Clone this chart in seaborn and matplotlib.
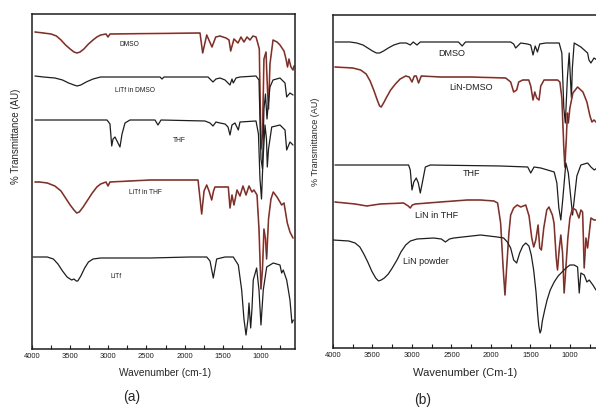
import numpy as np
import matplotlib
matplotlib.use("Agg")
import matplotlib.pyplot as plt
import seaborn as sns
from matplotlib.ticker import MultipleLocator

# ---- panel (a): LiTf spectra (wavenumber, transmittance AU) ----
a_dmso_wn = [3961, 3850, 3750, 3680, 3620, 3560, 3500, 3450, 3410, 3370, 3320, 3260, 3200, 3150, 3100,
             3030, 3004, 2978, 1798, 1763, 1710, 1641,
             1592, 1536, 1457, 1418, 1396, 1353, 1300, 1261, 1222, 1182, 1143, 1104, 1064, 1038, 1021,
             999, 979, 960, 933, 914, 900, 881, 841, 789, 750, 697, 671, 651, 632, 606, 579, 566]
a_dmso_t = [317, 316, 315, 313, 309, 304, 300, 297, 296, 297, 300, 305, 309, 312, 314,
            315, 312, 315, 316, 296, 314, 302,
            312, 313, 311, 309, 298, 310, 306, 312, 307, 312, 309, 313, 312, 305, 300,
            200, 215, 290, 297, 260, 240, 285, 309, 307, 304, 298, 290, 282, 290, 282, 279, 283]

a_litf_dmso_wn = [3961, 3850, 3700, 3600, 3520, 3450, 3410, 3360, 3290, 3200, 3100, 2978, 2322, 2296,
                  2270, 1693, 1628, 1589, 1536,
                  1470, 1405, 1379, 1362, 1326, 1274, 1064, 1025, 999, 979, 960, 940, 920, 907, 881,
                  841, 750, 684, 662, 619, 579]
a_litf_dmso_t = [273, 272, 271, 269, 266, 264, 263, 264, 267, 270, 272, 272, 272, 270,
                 272, 272, 267, 270, 271,
                 269, 264, 270, 266, 271, 272, 273, 269, 190, 180, 240, 255, 230, 242, 262,
                 269, 271, 266, 252, 256, 254]

a_thf_wn = [3961, 3017, 2978, 2955, 2938, 2912, 2886, 2847, 2820, 2781, 2716, 2388, 2349, 2309, 1733,
            1667, 1628, 1589, 1536, 1470, 1431, 1405, 1379, 1340, 1296, 1274, 1064, 1032, 1012, 992,
            972, 946, 927, 916, 900, 858, 750, 684, 662, 619, 579]
a_thf_t = [229, 229, 225, 203, 210, 212, 208, 202, 215, 226, 229, 229, 224, 229, 228,
           226, 223, 227, 226, 225, 222, 214, 224, 226, 219, 227, 228, 215, 170, 150,
           190, 224, 210, 182, 200, 222, 224, 219, 199, 207, 204]

a_litf_thf_wn = [3961, 3900, 3800, 3700, 3620, 3560, 3500, 3450, 3414, 3380, 3330, 3270, 3210, 3150,
                 3100, 3030, 3004, 2978, 2453, 1824,
                 1776, 1745, 1710, 1680, 1645, 1621, 1602, 1536, 1427, 1405, 1379, 1353, 1313, 1274,
                 1235, 1195, 1156, 1117, 1091, 1051, 1025, 999, 979, 960, 940, 925, 900, 868, 838,
                 789, 750, 728, 697, 654, 619, 579]
a_litf_thf_t = [167, 167, 166, 163, 158, 151, 144, 139, 136, 137, 142, 149, 156, 162,
                165, 167, 163, 167, 169, 169,
                135, 158, 164, 158, 149, 158, 162, 162, 162, 141, 154, 144, 159, 153,
                163, 154, 163, 157, 159, 154, 120, 60, 80, 120, 110, 90, 130, 150, 157,
                152, 147, 144, 146, 126, 117, 111]

a_litf_wn = [3987, 3800, 3720, 3660, 3600, 3540, 3480, 3450, 3420, 3400, 3360, 3310, 3260, 3200, 3100,
             2978, 2453, 1929, 1710, 1667,
             1624, 1580, 1470, 1362, 1296, 1252, 1222, 1195, 1169, 1156, 1134, 1117, 1100, 1056, 1025,
             999, 969, 924, 838, 750, 728, 707, 662, 619, 593, 575]
a_litf_t = [92, 92, 90, 85, 78, 72, 69, 70, 68, 68, 73, 81, 87, 90, 91,
            91, 91, 92, 92, 88,
            71, 90, 92, 92, 84, 59, 30, 14, 30, 46, 21, 40, 69, 81, 59,
            24, 59, 82, 86, 84, 76, 79, 69, 49, 26, 29]

# ---- panel (b): LiN spectra ----
b_dmso_wn = [3975, 3784, 3700, 3620, 3560, 3500, 3450, 3410, 3360, 3300, 3230, 3150, 3072, 3022, 2984,
             2937, 2895, 2412,
             2365, 2323, 1751, 1713, 1688, 1662, 1624, 1539, 1497, 1468, 1440, 1412, 1383, 1306, 1137,
             1103, 1078, 1059, 1033, 1010, 995, 982, 970, 947, 862, 777, 760, 735, 696, 658]
b_dmso_t = [306, 306, 305, 303, 300, 297, 295, 295, 297, 300, 303, 305, 305, 303, 306,
            303, 306, 306,
            302, 306, 306, 304, 300, 302, 305, 304, 303, 293, 302, 296, 304, 305, 305,
            295, 240, 225, 270, 295, 270, 250, 280, 305, 301, 295, 288, 285, 290, 288]

b_lin_dmso_wn = [3975, 3750, 3650, 3580, 3530, 3480, 3440, 3410, 3390, 3360, 3320, 3270, 3210, 3150,
                 3080, 3034, 3000, 2971,
                 2946, 2917, 2882, 2640, 2259, 1814, 1751, 1713, 1675, 1649, 1598, 1522, 1497, 1468,
                 1446, 1421, 1392, 1370, 1328, 1157, 1128, 1103, 1078, 1065, 1046, 1033, 1021, 1001,
                 963, 904, 836, 786, 747, 722, 696, 658]
b_lin_dmso_t = [281, 280, 278, 274, 267, 257, 248, 242, 241, 245, 251, 258, 264, 269,
                272, 271, 266, 272,
                272, 265, 272, 271, 271, 270, 266, 256, 258, 266, 268, 268, 262, 248,
                256, 250, 248, 262, 268, 268, 266, 250, 200, 181, 210, 235, 225, 240,
                255, 261, 256, 246, 232, 226, 228, 225]

b_thf_wn = [3975, 3403, 3043, 3022, 3000, 2977, 2946, 2920, 2895, 2870, 2831, 2768, 1878, 1535, 1497,
            1455, 1370, 1284, 1200, 1166, 1141, 1116, 1090, 1052, 1021, 989, 967, 944, 913, 862,
            777, 735, 693, 658]
b_thf_t = [183, 183, 183, 178, 158, 166, 170, 165, 155, 165, 181, 183, 182, 181, 175,
           181, 180, 178, 176, 165, 140, 128, 150, 185, 175, 150, 133, 150, 172, 183,
           185, 181, 178, 180]

b_lin_thf_wn = [3975, 3720, 3572, 3403, 3107, 3047, 3022, 2996, 2958, 2640, 2301, 2132, 1963, 1916,
                1878, 1846, 1823, 1802, 1773, 1751, 1713, 1668, 1624, 1560, 1518, 1484, 1459, 1433,
                1404, 1383, 1362, 1332, 1294, 1266, 1223, 1202, 1174, 1158, 1135, 1116, 1094, 1074,
                1052, 1027, 1001, 967, 925, 887, 862, 840, 820, 798, 777, 756, 735, 696, 658]
b_lin_thf_t = [146, 144, 142, 144, 145, 142, 140, 143, 144, 146, 148, 148, 147, 145,
               125, 80, 53, 80, 115, 133, 140, 143, 141, 143, 132, 110, 101, 108,
               123, 100, 98, 120, 138, 141, 133, 125, 90, 78, 100, 113, 95, 55,
               80, 110, 130, 140, 138, 130, 138, 136, 80, 110, 100, 115, 130, 128, 128]

b_lin_powder_wn = [4000, 3800, 3720, 3660, 3610, 3560, 3510, 3460, 3424, 3390, 3350, 3300, 3250, 3190,
                   3140, 3080, 3020, 2937, 2726,
                   2628, 2577, 2526, 2471, 2132, 1920, 1840, 1793, 1751, 1713, 1675, 1637, 1598, 1560,
                   1520, 1490, 1460, 1430, 1410, 1395, 1379, 1365, 1350, 1320, 1290, 1250, 1200, 1150,
                   1100, 1050, 1000, 947, 904, 883, 862, 820, 786, 757, 710, 671]
b_lin_powder_t = [108, 107, 105, 101, 94, 86, 77, 70, 67, 68, 70, 74, 80, 88,
                  96, 103, 107, 109, 110,
                  109, 106, 109, 110, 113, 111, 110, 106, 100, 88, 85, 95, 102, 105,
                  102, 93, 78, 56, 35, 22, 15, 18, 27, 38, 48, 58, 66, 72,
                  76, 80, 83, 83, 81, 55, 75, 73, 66, 68, 63, 58]

BLACK = "#1e1e1e"
RED = "#b04a40"

sns.set_theme(style="white")
plt.rcParams["font.family"] = ["Liberation Sans", "DejaVu Sans"]

fig = plt.figure(figsize=(5.96, 4.08), dpi=100)
ax_a = fig.add_axes([32 / 596, 1 - 349 / 408, 263 / 596, 335 / 408])
ax_b = fig.add_axes([333 / 596, 1 - 348 / 408, 264 / 596, 333 / 408])


def trace(ax, wn, t, red=False):
    if red:
        sns.lineplot(x=wn, y=t, ax=ax, sort=False, color=RED, lw=1.2, estimator=None)
        sns.lineplot(x=wn, y=t, ax=ax, sort=False, color="#3a2626", lw=0.5, alpha=0.8,
                     estimator=None)
    else:
        sns.lineplot(x=wn, y=t, ax=ax, sort=False, color=BLACK, lw=0.9, estimator=None)


trace(ax_a, a_dmso_wn, a_dmso_t, red=True)
trace(ax_a, a_litf_dmso_wn, a_litf_dmso_t)
trace(ax_a, a_thf_wn, a_thf_t)
trace(ax_a, a_litf_thf_wn, a_litf_thf_t, red=True)
trace(ax_a, a_litf_wn, a_litf_t)

trace(ax_b, b_dmso_wn, b_dmso_t)
trace(ax_b, b_lin_dmso_wn, b_lin_dmso_t, red=True)
trace(ax_b, b_thf_wn, b_thf_t)
trace(ax_b, b_lin_thf_wn, b_lin_thf_t, red=True)
trace(ax_b, b_lin_powder_wn, b_lin_powder_t)

ax_a.set_xlim(4000, 553)
ax_a.set_ylim(0, 335)
ax_b.set_xlim(4000, 658)
ax_b.set_ylim(0, 333)

for ax in (ax_a, ax_b):
    ax.set_yticks([])
    ax.set_ylabel("")
    ax.set_xlabel("")
    ax.xaxis.set_major_locator(MultipleLocator(500))
    ax.xaxis.set_minor_locator(MultipleLocator(250))
    ax.tick_params(axis="x", which="both", direction="in", length=3, width=0.8,
                   bottom=True, top=False, labelsize=5.5, pad=3, colors=BLACK)
    for s in ax.spines.values():
        s.set_color(BLACK)
        s.set_linewidth(1.1)
ax_b.spines["right"].set_visible(False)

# curve labels, panel (a)
for x, y, s in [(2720, 44, "DMSO"), (2650, 90, "LiTf in DMSO"), (2070, 140, "THF"),
                (2510, 193, "LiTf in THF"), (2900, 276, "LiTf")]:
    ax_a.text(x, 349 - y, s, fontsize=4.8, ha="center", va="center", color=BLACK)

# curve labels, panel (b)
for x, y, s in [(2500, 54, "DMSO"), (2250, 87, "LiN-DMSO"), (2250, 174, "THF"),
                (2690, 216, "LiN in THF"), (2820, 261, "LiN powder")]:
    ax_b.text(x, 348 - y, s, fontsize=6.5, ha="center", va="center", color=BLACK)

fig.text(165 / 596, 1 - 373 / 408, "Wavenumber (cm-1)", fontsize=7.3, ha="center", va="center")
fig.text(465 / 596, 1 - 373 / 408, "Wavenumber (Cm-1)", fontsize=8, ha="center", va="center")
fig.text(16 / 596, 1 - 136 / 408, "% Transmittance (AU)", fontsize=7, rotation=90,
         ha="center", va="center")
fig.text(316 / 596, 1 - 142 / 408, "% Transmittance (AU)", fontsize=6.5, rotation=90,
         ha="center", va="center")
fig.text(132 / 596, 1 - 397 / 408, "(a)", fontsize=10, ha="center", va="center")
fig.text(423 / 596, 1 - 400 / 408, "(b)", fontsize=10, ha="center", va="center")

fig.savefig("out.png", dpi=100, facecolor="white")
